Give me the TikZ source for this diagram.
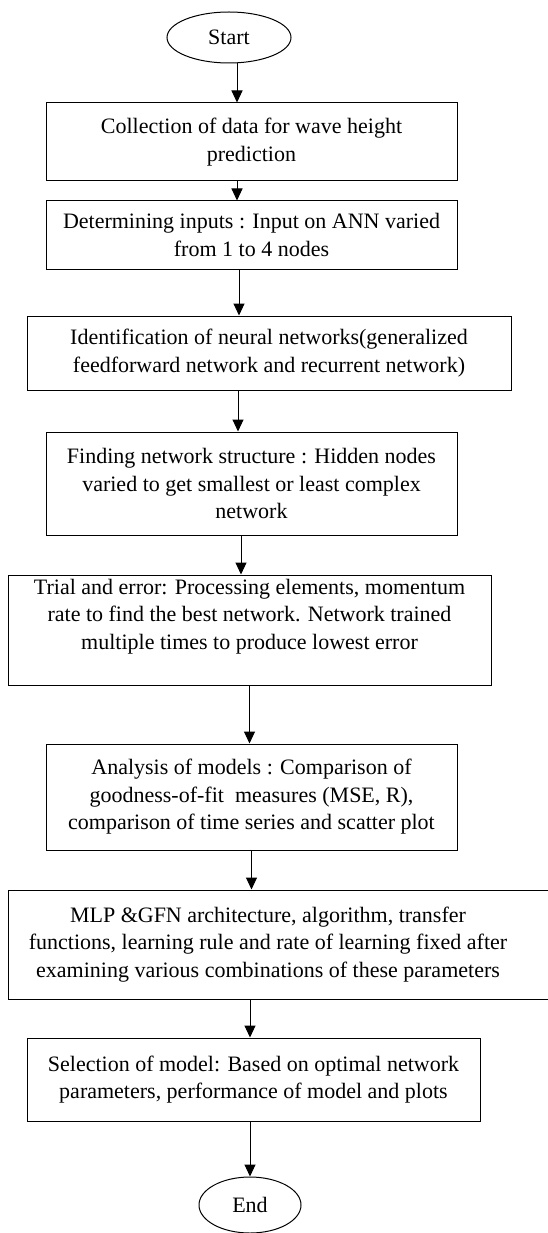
\documentclass[tikz,border=0pt]{standalone}
\usepackage{fontspec}
\setmainfont{Liberation Serif}
\usetikzlibrary{arrows.meta,shapes.geometric}
\tikzset{>={Triangle[length=12pt,width=11pt]}}
\tikzset{
  box/.style={draw,line width=1pt,align=center},
  term/.style={draw,ellipse,line width=1pt},
}

\begin{document}
\begin{tikzpicture}[x=1pt,y=-1pt,font=\fontsize{22}{27.5}\selectfont,line width=1pt]
  \useasboundingbox (0,0) rectangle (547,1233);
  % steps
  \node[term,minimum width=124,minimum height=51] (start) at (229,37.5) {Start};
  \node[box,minimum width=411,minimum height=78] (collect) at (251.5,142)
    {Collection of data for wave height\\prediction};
  \node[box,minimum width=411,minimum height=68] (inputs) at (251.5,235)
    {Determining inputs : Input on ANN varied\\from 1 to 4 nodes};
  \node[box,minimum width=484,minimum height=74] (ident) at (269,353)
    {Identification of neural networks(generalized\\feedforward network and recurrent network)};
  \node[box,minimum width=411,minimum height=103] (struct) at (251.5,483.5)
    {Finding network structure : Hidden nodes\\varied to get smallest or least complex\\network};
  \node[box,minimum width=483,minimum height=110] (trial) at (249.5,630)
    {Trial and error: Processing elements, momentum\\rate to find the best network. Network trained\\multiple times to produce lowest error\\[4pt]};
  \node[box,minimum width=411,minimum height=106] (analysis) at (251.5,797)
    {Analysis of models : Comparison of\\goodness-of-fit~~measures (MSE, R),\\comparison of time series and scatter plot};
  \node[box,minimum width=552,minimum height=109] (arch) at (284,944.5) {};
  \node[align=center] (archtxt) at ([xshift=-16]arch.center)
    {MLP \&GFN architecture, algorithm, transfer\\functions, learning rule and rate of learning fixed after\\examining various combinations of these parameters};
  \node[box,minimum width=453,minimum height=83] (select) at (253.5,1079.5)
    {Selection of model: Based on optimal network\\parameters, performance of model and plots};
  \node[term,minimum width=102,minimum height=56] (end) at (250,1205) {End};
  % arrows
  \draw[->] ([xshift=8]start.south) -- ([xshift=8]start.south |- collect.north);
  \draw[->] ([xshift=-14.5]collect.south) -- ([xshift=-14.5]collect.south |- inputs.north);
  \draw[->] ([xshift=-12.5]inputs.south) -- ([xshift=-12.5]inputs.south |- ident.north);
  \draw[->] ([xshift=-31]ident.south) -- ([xshift=-31]ident.south |- struct.north);
  \draw[->] ([xshift=-10.5]struct.south) -- ([xshift=-10.5]struct.south |- trial.north);
  \draw[->] (trial.south) -- (trial.south |- analysis.north);
  \draw[->] (analysis.south) -- (analysis.south |- arch.north);
  \draw[->] ([xshift=-3.5]select.north |- arch.south) -- ([xshift=-3.5]select.north);
  \draw[->] (end.north |- select.south) -- (end.north);
\end{tikzpicture}
\end{document}
